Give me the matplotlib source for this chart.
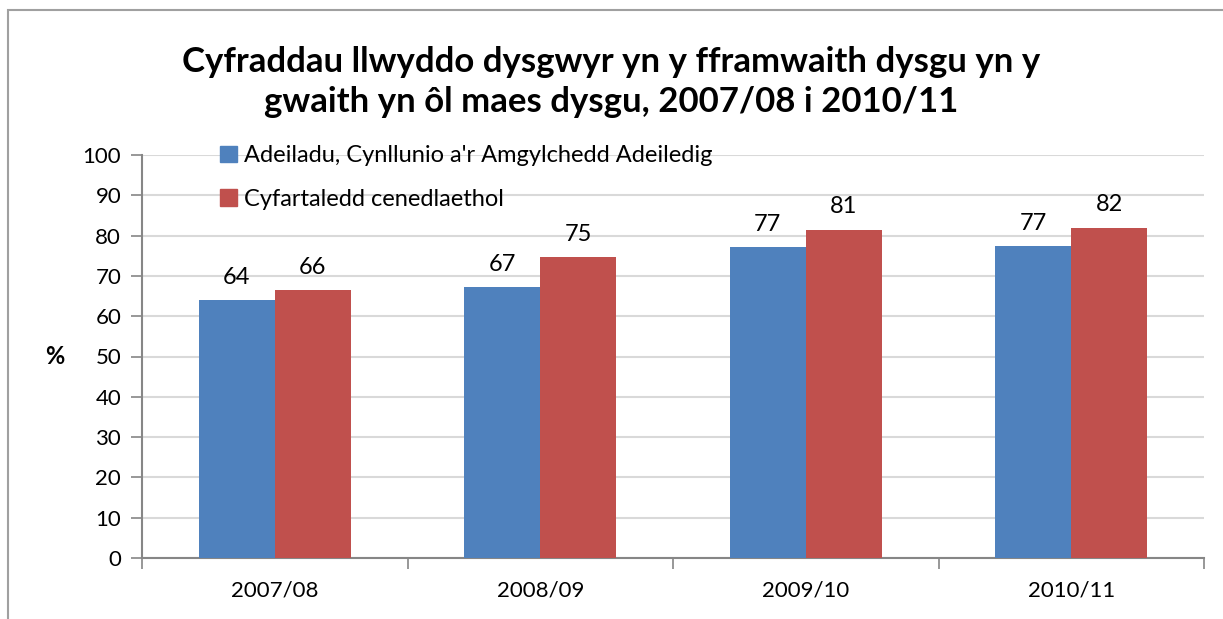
import matplotlib
matplotlib.use("Agg")
import matplotlib.pyplot as plt
from matplotlib.patches import Patch, Rectangle
import numpy as np

plt.rcParams['font.family'] = ['Lato', 'DejaVu Sans']

years = ['2007/08', '2008/09', '2009/10', '2010/11']
sector = [64.0, 67.2, 77.1, 77.4]
national = [66.4, 74.6, 81.4, 82.0]
labels = ['Adeiladu, Cynllunio a\'r Amgylchedd Adeiledig', 'Cyfartaledd cenedlaethol']
title = 'Cyfraddau llwyddo dysgwyr yn y fframwaith dysgu yn y\ngwaith yn ôl maes dysgu, 2007/08 i 2010/11'

blue = '#4f81bd'
red = '#c0504d'
axis_grey = '#868686'

fig = plt.figure(figsize=(12.23, 6.19), dpi=100)
ax = fig.add_axes([142/1223, 1 - 558/619, (1204-142)/1223, (558-155)/619])

x = np.arange(len(years))
w = 0.286
b1 = ax.bar(x - w/2, sector, w, color=blue, zorder=3)
b2 = ax.bar(x + w/2, national, w, color=red, zorder=3)
for bars in (b1, b2):
    ax.bar_label(bars, fmt='%.0f', padding=9, fontsize=17)

ax.set_xlim(-0.5, len(years) - 0.5)
ax.set_ylim(0, 100)
ax.set_yticks(range(0, 101, 10))
ax.set_xticks(x)
ax.set_xticklabels(years, fontsize=16)
ax.set_xticks(np.arange(-0.5, len(years)), minor=True)
ax.tick_params(axis='x', which='major', length=0, pad=16)
ax.tick_params(axis='x', which='minor', length=8, color=axis_grey, width=1.2)
ax.tick_params(axis='y', length=8, color=axis_grey, width=1.2, labelsize=16, pad=7)
ax.yaxis.grid(True, color='#d9d9d9', linewidth=1.5, zorder=0)
ax.set_axisbelow(True)
for s in ('top', 'right'):
    ax.spines[s].set_visible(False)
for s in ('left', 'bottom'):
    ax.spines[s].set_color(axis_grey)
    ax.spines[s].set_linewidth(1.5)

ax.set_ylabel('%', rotation=0, fontsize=17, fontweight='bold', labelpad=20, va='center')

handles = [Patch(color=blue), Patch(color=red)]
fig.legend(handles, labels, loc='upper left', bbox_to_anchor=(211/1223, 1 - 136/619),
           frameon=False, fontsize=17, handlelength=0.7, handleheight=0.7,
           handletextpad=0.3, labelspacing=0.95, borderaxespad=0)

fig.text(0.5, 1 - 82/619, title, ha='center', va='center', fontsize=25,
         fontweight='bold', linespacing=1.3)

fig.patches.append(Rectangle((8/1223, -0.1), 1.2, 1.1 - 10/619, transform=fig.transFigure,
                             fill=False, edgecolor='#a0a0a0', linewidth=1.5))

fig.savefig('out.png', dpi=100)
